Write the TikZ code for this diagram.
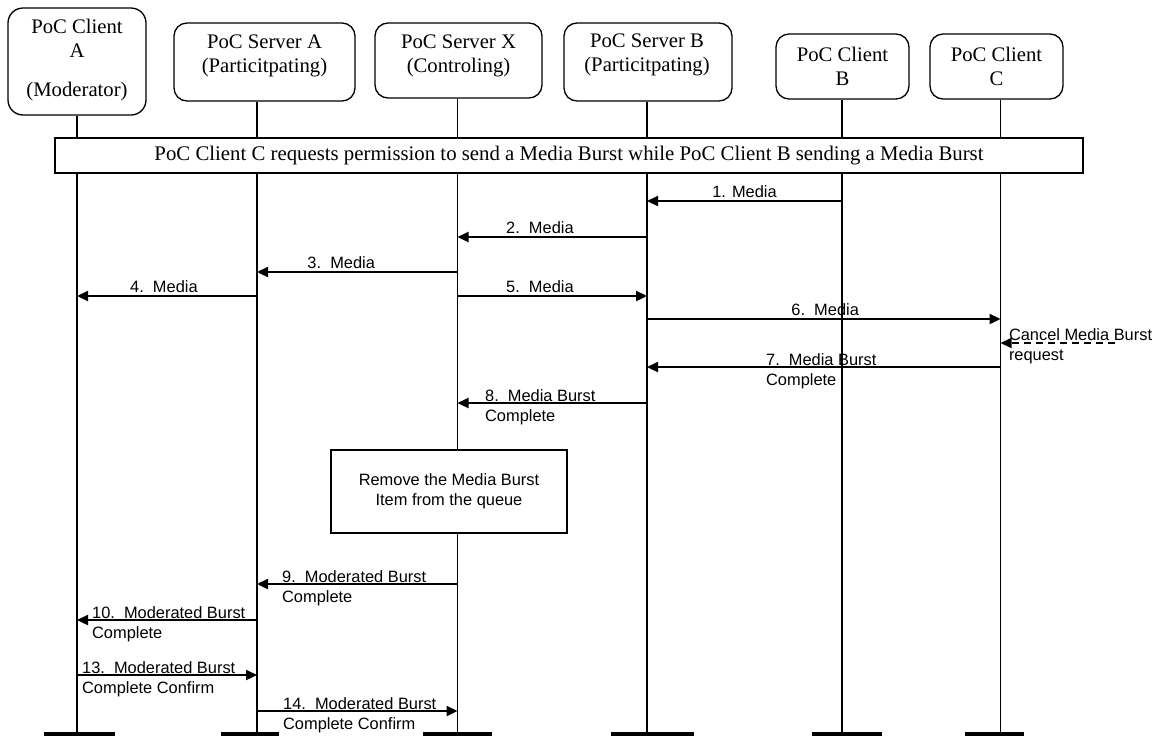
\documentclass[tikz,border=0pt]{standalone}
\usepackage{fontspec}
\setmainfont{Liberation Serif}
\newfontfamily\arialfont{Liberation Sans}
\usetikzlibrary{arrows.meta, calc}

\begin{document}
\begin{tikzpicture}[x=1pt, y=-1pt,
  party/.style={draw, line width=1.3pt, rounded corners=13pt, inner sep=0pt},
  partytext/.style={align=center, inner sep=0pt, font=\fontsize{20.7}{24}\selectfont},
  banner/.style={draw, fill=white, line width=1.3pt, inner sep=0pt, minimum width=1028pt, minimum height=35pt, font=\fontsize{20.8}{24}\selectfont},
  actionbox/.style={draw, fill=white, line width=1.3pt, inner sep=0pt, minimum width=236pt, minimum height=83pt, align=center, font=\arialfont\fontsize{16.4}{20}\selectfont},
  lifeline/.style={line width=1.3pt},
  endbar/.style={line width=4.5pt},
  msg/.style={line width=2.3pt, -{Triangle[length=11pt, width=10pt]}},
  cancelmsg/.style={msg, line width=2pt, dash pattern=on 7pt off 5pt},
  msglabel/.style={anchor=base, inner sep=0pt, yshift=3.5pt, font=\arialfont\fontsize{16.4}{20}\selectfont},
  note/.style={anchor=north west, inner sep=0pt, yshift=15pt, align=left, font=\arialfont\fontsize{16.4}{20}\selectfont}
]
\useasboundingbox (0,0) rectangle (1160,737);

% parties
\node[party, minimum width=138pt, minimum height=107pt, rounded corners=15pt] (ca) at (77,61.5) {};
\node[partytext] (caText) at (77,60) {PoC Client\\A\\[15pt](Moderator)};
\node[party, minimum width=181pt, minimum height=78pt] (sa) at (264.5,62) {};
\node[partytext] (saText) at (264.5,55.5) {PoC Server A\\(Particitpating)};
\node[party, minimum width=167pt, minimum height=75pt] (sx) at (458.5,60.5) {};
\node[partytext] (sxText) at (458.5,55.5) {PoC Server X\\(Controling)};
\node[party, minimum width=168pt, minimum height=78pt] (sb) at (648,62) {};
\node[partytext] (sbText) at (647,55) {PoC Server B\\(Particitpating)};
\node[party, minimum width=133pt, minimum height=65pt] (cb) at (842.5,66.5) {};
\node[partytext] (cbText) at (842.5,66) {PoC Client\\B};
\node[party, minimum width=133pt, minimum height=65pt] (cc) at (996.5,66.5) {};
\node[partytext] (ccText) at (996.5,66) {PoC Client\\C};

% lifelines
\coordinate (caEnd) at (77,734);
\coordinate (saEnd) at (257,734);
\coordinate (sxEnd) at (457.5,734);
\coordinate (sbEnd) at (647,734);
\coordinate (cbEnd) at (842,734);
\coordinate (ccEnd) at (1000.5,734);
\draw[lifeline] (ca.south -| caEnd) -- (caEnd);
\draw[lifeline] (sa.south -| saEnd) -- (saEnd);
\draw[lifeline] (sx.south -| sxEnd) -- (sxEnd);
\draw[lifeline] (sb.south -| sbEnd) -- (sbEnd);
\draw[lifeline] (cb.south -| cbEnd) -- (cbEnd);
\draw[lifeline] (cc.south -| ccEnd) -- (ccEnd);
\draw[endbar] ([xshift=-33pt]caEnd) -- ([xshift=38pt]caEnd);
\draw[endbar] ([xshift=-36pt]saEnd) -- ([xshift=22pt]saEnd);
\draw[endbar] ([xshift=-34.5pt]sxEnd) -- ([xshift=34.5pt]sxEnd);
\draw[endbar] ([xshift=-36pt]sbEnd) -- ([xshift=47pt]sbEnd);
\draw[endbar] ([xshift=-30pt]cbEnd) -- ([xshift=40pt]cbEnd);
\draw[endbar] ([xshift=-35.5pt]ccEnd) -- ([xshift=23.5pt]ccEnd);

\node[banner] (intro) at (569,155.5) {PoC Client C requests permission to send a Media Burst while PoC Client B sending a Media Burst};
\node[actionbox] (removal) at (449,491.5) {Remove the Media Burst\\Item from the queue};

% messages
\draw[msg] (cbEnd |- 0,201) -- (sbEnd |- 0,201) node[msglabel, midway] (m1) {1. Media};
\draw[msg] (sbEnd |- 0,237) -- (sxEnd |- 0,237) node[msglabel, pos=0.565] (m2) {2.\ \ Media};
\draw[msg] (sxEnd |- 0,272) -- (saEnd |- 0,272) node[msglabel, pos=0.58] (m3) {3.\ \ Media};
\draw[msg] (saEnd |- 0,296) -- (caEnd |- 0,296) node[msglabel, pos=0.517] (m4) {4.\ \ Media};
\draw[msg] (sxEnd |- 0,296) -- (sbEnd |- 0,296) node[msglabel, pos=0.435] (m5) {5.\ \ Media};
\draw[msg] (sbEnd |- 0,319) -- (ccEnd |- 0,319) node[msglabel, pos=0.504] (m6) {6.\ \ Media};
\coordinate (cancelFrom) at (1115,343);
\draw[cancelmsg] (cancelFrom) -- (ccEnd |- cancelFrom) node[note, at end, xshift=7.5pt] (cancel) {Cancel Media Burst\\request};
\draw[msg] (ccEnd |- 0,367) -- (sbEnd |- 0,367) node[note, at end, xshift=118pt] (m7) {7.\ \ Media Burst\\Complete};
\draw[msg] (sbEnd |- 0,403) -- (sxEnd |- 0,403) node[note, at end, xshift=26.5pt] (m8) {8.\ \ Media Burst\\Complete};
\draw[msg] (sxEnd |- 0,584) -- (saEnd |- 0,584) node[note, at end, xshift=24pt] (m9) {9.\ \ Moderated Burst\\Complete};
\draw[msg] (saEnd |- 0,620) -- (caEnd |- 0,620) node[note, at end, xshift=14pt] (m10) {10.\ \ Moderated Burst\\Complete};
\draw[msg] (caEnd |- 0,675) -- (saEnd |- 0,675) node[note, at start, xshift=4pt] (m13) {13.\ \ Moderated Burst\\Complete Confirm};
\draw[msg] (saEnd |- 0,711) -- (sxEnd |- 0,711) node[note, at start, xshift=25pt] (m14) {14.\ \ Moderated Burst\\Complete Confirm};
\end{tikzpicture}
\end{document}
